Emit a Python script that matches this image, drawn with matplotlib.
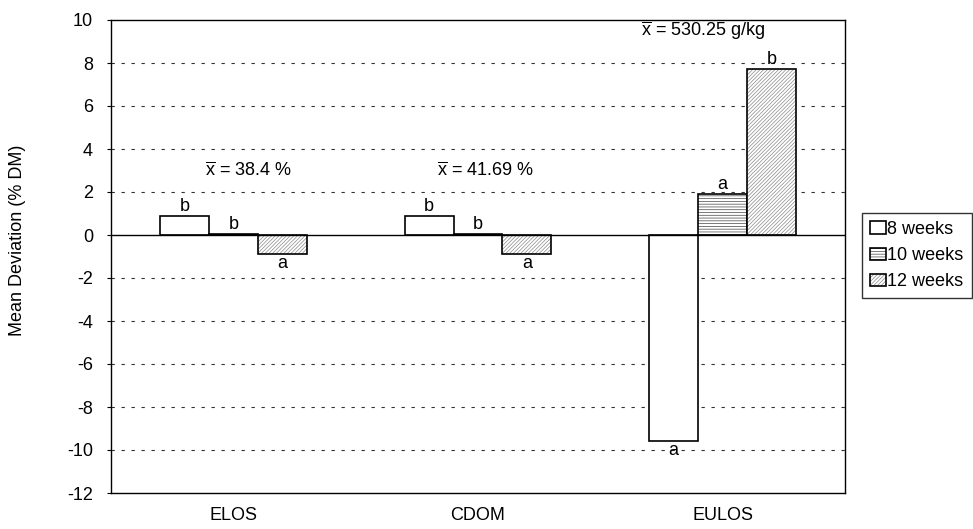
import matplotlib
matplotlib.use("Agg")
import matplotlib.pyplot as plt
import numpy as np

plt.rcParams['font.family'] = ['Liberation Sans', 'DejaVu Sans']
plt.rcParams['mathtext.fontset'] = 'custom'
plt.rcParams['mathtext.rm'] = 'Liberation Sans'
plt.rcParams['mathtext.it'] = 'Liberation Sans'
plt.rcParams['hatch.linewidth'] = 0.5

categories = ["ELOS", "CDOM", "EULOS"]
series_names = ["8 weeks", "10 weeks", "12 weeks"]
w8 = [0.9, 0.9, -9.6]
w10 = [0.03, 0.03, 1.9]
w12 = [-0.9, -0.9, 7.7]
letters8 = ["b", "b", "a"]
letters10 = ["b", "b", "a"]
letters12 = ["a", "a", "b"]
means = [r"$\overline{\mathrm{x}}$ = 38.4 %", r"$\overline{\mathrm{x}}$ = 41.69 %",
         r"$\overline{\mathrm{x}}$ = 530.25 g/kg"]
mean_y = [3.0, 3.0, 9.5]
mean_dx = [0.06, 0.03, -0.08]
yticks = list(range(-12, 11, 2))

FS = 13
fig = plt.figure(figsize=(9.73, 5.29), dpi=100)
ax = fig.add_axes([111/973, 1-493/529, 734/973, 473/529])

x = np.arange(len(categories))
bw = 0.2
series = [w8, w10, w12]
letters = [letters8, letters10, letters12]
hatches = [None, '------', '/////////']
hcols = [None, '#444444', '#8a8a8a']
offsets = [-bw, 0, bw]
for vals, h, hc, off, lab, lets in zip(series, hatches, hcols, offsets, series_names, letters):
    bars = ax.bar(x + off, vals, bw, facecolor='white', edgecolor='black',
                  linewidth=1.2, hatch=h, label=lab, zorder=3)
    if hc:
        for b in bars:
            b._hatch_color = matplotlib.colors.to_rgba(hc)
    for xi, v, l in zip(x + off, vals, lets):
        if v >= 0:
            ax.text(xi, v + 0.05, l, ha='center', va='bottom', fontsize=FS, zorder=5)
        else:
            ax.text(xi, v - 0.02, l, ha='center', va='top', fontsize=FS, zorder=5)

for xi, t, yy, dx in zip(x, means, mean_y, mean_dx):
    ax.text(xi + dx, yy, t, ha='center', va='center', fontsize=FS)

ax.set_xlim(-0.5, 2.5)
ax.set_ylim(-12, 10)
ax.set_yticks(yticks)
ax.set_yticklabels([str(t) for t in yticks], fontsize=FS)
for t in yticks:
    if t not in (0, -12, 10):
        ax.axhline(t, color='#333333', linewidth=0.8, linestyle=(0, (3, 6)), zorder=1)
ax.axhline(0, color='black', linewidth=1.0, zorder=4)
ax.set_xticks(x)
ax.set_xticklabels(categories, fontsize=FS)
ax.tick_params(axis='x', length=0, pad=10)
ax.tick_params(axis='y', length=3, direction='out', pad=10)
for s in ax.spines.values():
    s.set_linewidth(1.0)
ax.set_ylabel("Mean Deviation (% DM)", fontsize=FS)
ax.yaxis.set_label_coords(18/973, 1-240/529, transform=fig.transFigure)
ax.yaxis.label.set_va('center')

leg = ax.legend(loc='upper left', bbox_to_anchor=(862/973, 1-213/529),
                bbox_transform=fig.transFigure, frameon=True, fancybox=False,
                edgecolor='black', fontsize=FS, handlelength=0.9, handleheight=0.7,
                handletextpad=0.05, borderpad=0.45, labelspacing=0.5, borderaxespad=0)
leg.get_frame().set_linewidth(1.0)
for p, hc in zip(leg.get_patches(), hcols):
    if hc:
        p._hatch_color = matplotlib.colors.to_rgba(hc)

fig.savefig("out.png", dpi=100)
